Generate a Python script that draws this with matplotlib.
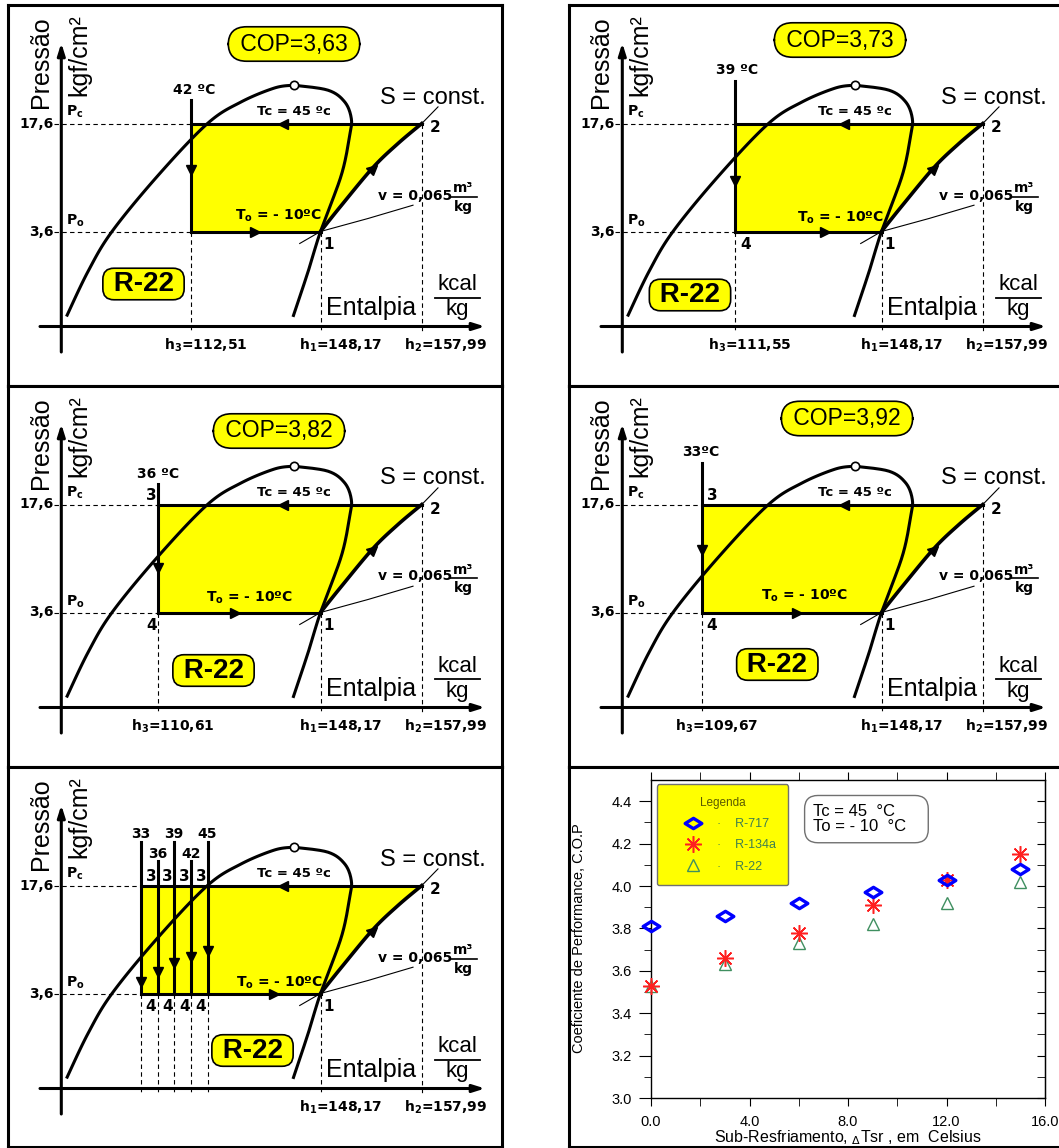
import numpy as np
import matplotlib
matplotlib.use('Agg')
import matplotlib.pyplot as plt
from matplotlib.path import Path
from matplotlib.markers import MarkerStyle
from matplotlib.transforms import Affine2D

plt.rcParams['font.family'] = ['Liberation Sans', 'DejaVu Sans']
plt.rcParams['mathtext.fontset'] = 'dejavusans'

# cycle data (R-22, Tc = 45 C, To = -10 C)
T_COND = 45
T_EVAP = -10
P_COND = 17.6
P_EVAP = 3.6
H1 = 148.17
H2 = 157.99
T3 = [42, 39, 36, 33]
H3 = [112.51, 111.55, 110.61, 109.67]
COP = [3.63, 3.73, 3.82, 3.92]

# COP vs subcooling
subcooling = [0, 3, 6, 9, 12, 15]
cop_r717 = [3.81, 3.86, 3.92, 3.97, 4.03, 4.08]
cop_r134a = [3.53, 3.66, 3.78, 3.91, 4.03, 4.15]
cop_r22 = [3.53, 3.63, 3.73, 3.82, 3.92, 4.02]

W, H = 1059, 1148
fig = plt.figure(figsize=(W / 100, H / 100), dpi=100)

# schematic p-h layout (panel pixels)
AX_X, AX_Y = 53.3, 321.5
PC_Y, PO_Y = 118.5, 226.5
X1, X2 = 312.5, 413.8
X_SAT, PX_DEG = 199.5, 5.55
LIQ = [(58.5, 193), (80, 148), (104, 108), (150, 52), (199.5, 0), (233, -21.5),
       (266.5, -35.5), (285.7, -38.3)]
VAP = [(285.7, -38.3), (320, -33.3), (336.7, -21.6), (343.3, -5), (341.7, 11.7),
       (333.3, 51.7), (312.5, 108), (300, 148.4), (285, 193.4)]
COMP = [(312.5, 108), (333.3, 82), (365, 44), (390, 20), (413.8, 0)]
VLINE = [(291.7, 120), (312.5, 108), (360, 95), (405, 81.7)]

BOLD = dict(family=['DejaVu Sans'], fontweight='bold')


def br(v, nd=2):
    return f'{v:.{nd}f}'.replace('.', ',')


def curve(pts, n=16):
    p = np.asarray(pts, float)
    p = np.vstack([p[0], p, p[-1]])
    out = []
    t = np.linspace(0, 1, n, endpoint=False)[:, None]
    for i in range(1, len(p) - 2):
        p0, p1, p2, p3 = p[i - 1], p[i], p[i + 1], p[i + 2]
        out.append(0.5 * (2 * p1 + (-p0 + p2) * t + (2 * p0 - 5 * p1 + 4 * p2 - p3) * t ** 2
                          + (-p0 + 3 * p1 - 3 * p2 + p3) * t ** 3))
    out.append(p[-2][None])
    c = np.vstack(out)
    c[:, 1] += PC_Y
    return c


def panel(x0, y0, w, h):
    ax = fig.add_axes([x0 / W, 1 - (y0 + h) / H, w / W, h / H])
    ax.set_xlim(0, w)
    ax.set_ylim(h, 0)
    ax.set_xticks([])
    ax.set_yticks([])
    for s in ax.spines.values():
        s.set_linewidth(2.2)
    return ax


def diagram(ax, temps, lay, h3=None, cop=None):
    xs = [X_SAT - (T_COND - t) * PX_DEG for t in temps]
    x0 = min(xs)
    yc, yo = PC_Y, PO_Y
    comp = curve(COMP)

    fx = [x0, X2] + list(comp[::-1, 0]) + [x0]
    fy = [yc, yc] + list(comp[::-1, 1]) + [yo]
    ax.fill(fx, fy, color='#ffff00', lw=0, zorder=1)

    dash = dict(color='k', lw=0.8, ls=(0, (4, 3)), zorder=2)
    ax.plot([46, x0], [yc, yc], **dash)
    ax.plot([46, x0], [yo, yo], **dash)
    for x in xs:
        ax.plot([x, x], [yo, AX_Y + 4], **dash)
    ax.plot([X1, X1], [yo, AX_Y + 4], **dash)
    ax.plot([X2, X2], [yc, AX_Y + 4], **dash)

    arr = dict(arrowstyle='-|>,head_length=0.7,head_width=0.22', lw=2.2, color='k',
               shrinkA=0, shrinkB=0)
    ax.annotate('', xy=(AX_X, 38), xytext=(AX_X, 347), arrowprops=arr, zorder=3)
    ax.annotate('', xy=(477, AX_Y), xytext=(32, AX_Y), arrowprops=arr, zorder=3)

    v = np.array(VLINE, float)
    ax.plot(v[:, 0], v[:, 1] + yc, color='k', lw=0.8, zorder=3)
    ax.plot([X2, 430], [yc, yc - 16.6], color='k', lw=0.8, zorder=3)

    for pts in (LIQ, VAP):
        c = curve(pts)
        ax.plot(c[:, 0], c[:, 1], color='k', lw=2.2, zorder=4, solid_capstyle='butt')

    ax.plot([x0, X2], [yc, yc], color='k', lw=2.2, zorder=5)
    ax.plot([x0, X1], [yo, yo], color='k', lw=2.2, zorder=5)
    ax.plot(comp[:, 0], comp[:, 1], color='k', lw=2.6, zorder=5)
    for x, top in zip(xs, lay['top']):
        ax.plot([x, x], [yc + top, yo], color='k', lw=2.2, zorder=5)

    tri = dict(color='k', ms=7, zorder=6, ls='none')
    for x, d in zip(xs, lay['arr']):
        ax.plot(x, yc + d, marker='v', **tri)
    ax.plot(275, yc, marker='<', **tri)
    ax.plot(lay['po_arr'], yo, marker='>', **tri)
    ax.plot(365, yc + 44, marker=MarkerStyle('^', transform=Affine2D().rotate_deg(-47)), **tri)
    ax.plot(285.7, yc - 38.3, 'o', ms=6, mfc='white', mec='k', mew=1.2, zorder=7)

    # temperature labels over the throttling lines
    for (lx, ldy), txt in zip(lay['lbl'], lay['lbl_txt']):
        ax.text(lx, yc + ldy, txt, ha='center', va='center', fontsize=10, **BOLD)
    side = lay.get('side')
    if side is not None:
        dx = 10 if side == 'right' else -6
        for x in xs[:lay.get('n_34', len(xs))]:
            if lay.get('show3', True):
                ax.text(x + dx, yc - 9, '3', ha='center', va='center', fontsize=11, **BOLD)
            ax.text(x + dx, yo + 13, '4', ha='center', va='center', fontsize=11, **BOLD)

    ax.text(46, yc, br(P_COND, 1), ha='right', va='center', fontsize=10, **BOLD)
    ax.text(46, yo, br(P_EVAP, 1), ha='right', va='center', fontsize=10, **BOLD)
    ax.text(67, yc - 11.5, r'P$_\mathbf{c}$', ha='center', va='center', fontsize=10, **BOLD)
    ax.text(67, yo - 10.5, r'P$_\mathbf{o}$', ha='center', va='center', fontsize=10, **BOLD)
    ax.text(321, yo + 13, '1', ha='center', va='center', fontsize=11, **BOLD)
    ax.text(427, yc + 4.5, '2', ha='center', va='center', fontsize=11, **BOLD)
    ax.text(286, yc - 12, f'Tc = {T_COND} ºc', ha='center', va='center', fontsize=9.5, **BOLD)
    ax.text(lay['to_x'], yo + lay['to_dy'], r'T$_\mathbf{o}$ = - ' + f'{-T_EVAP}ºC',
            ha='left', va='center', fontsize=10, **BOLD)
    ax.text(370, yc + 72, 'v = 0,065', ha='left', va='center', fontsize=10, **BOLD)
    ax.text(455.5, yc + 65, 'm³', ha='center', va='center', fontsize=10, **BOLD)
    ax.plot([441.5, 468.5], [yc + 73.5, yc + 73.5], color='k', lw=1.2, zorder=6)
    ax.text(455, yc + 83.5, 'kg', ha='center', va='center', fontsize=10, **BOLD)

    if h3 is not None:
        ax.text(x0 + 15, 340, r'h$_\mathbf{3}$=' + br(h3), ha='center', va='center', fontsize=10, **BOLD)
    ax.text(333, 340, r'h$_\mathbf{1}$=' + br(H1), ha='center', va='center', fontsize=10, **BOLD)
    ax.text(437, 340, r'h$_\mathbf{2}$=' + br(H2), ha='center', va='center', fontsize=10, **BOLD)

    ax.text(372, yc - 26, 'S = const.', ha='left', va='center', fontsize=17)
    ax.text(318, 303, 'Entalpia', ha='left', va='center', fontsize=18)
    ax.text(449, 280, 'kcal', ha='center', va='center', fontsize=16)
    ax.plot([427, 472], [292.5, 292.5], color='k', lw=1.3, zorder=6)
    ax.text(449, 305, 'kg', ha='center', va='center', fontsize=16)
    ax.text(32.5, 57, 'Pressão', rotation=90, ha='center', va='center', fontsize=18)
    ax.text(71.5, 50, 'kgf/cm²', rotation=90, ha='center', va='center', fontsize=18)

    ax.text(*lay['r22'], ' R-22 ', ha='center', va='center', fontsize=20, fontweight='bold',
            bbox=dict(boxstyle='round,pad=0.1,rounding_size=0.4', fc='#ffff00', ec='k', lw=1.2),
            zorder=8)
    if cop is not None:
        ax.text(*lay['cop'], ' COP=' + br(cop) + ' ', ha='center', va='center', fontsize=16.5,
                bbox=dict(boxstyle='round,pad=0.25,rounding_size=0.8', fc='#ffff00', ec='k', lw=1.2),
                zorder=8)


layouts = [
    dict(box=(8, 5, 494, 381), top=[-24], lbl=[(186, -34)], arr=[46], cop=(286, 39),
         r22=(135.5, 279), to_x=227, to_dy=-16, po_arr=247, side=None),
    dict(box=(569, 5, 495, 381), top=[-43], lbl=[(168.5, -53)], arr=[57], cop=(271, 35),
         r22=(121, 290), to_x=228, to_dy=-14, po_arr=256, side='right', show3=False),
    dict(box=(8, 386, 494, 381), top=[-21], lbl=[(150, -31)], arr=[63], cop=(271, 45),
         r22=(205.5, 284.5), to_x=198, to_dy=-15, po_arr=227, side='left'),
    dict(box=(569, 386, 495, 381), top=[-42], lbl=[(132, -52)], arr=[45], cop=(278, 32.5),
         r22=(208.3, 278.5), to_x=192, to_dy=-17, po_arr=228, side='right'),
]
spaced = [' ºC', ' ºC', ' ºC', 'ºC']
for i, lay in enumerate(layouts):
    lay['lbl_txt'] = [f'{T3[i]}{spaced[i]}']
    ax = panel(*lay['box'])
    diagram(ax, [T3[i]], lay, h3=H3[i], cop=COP[i])

# all subcooling cases together
temps_all = sorted(T3) + [T_COND]
xs_all = [X_SAT - (T_COND - t) * PX_DEG for t in temps_all]
tops_all = [-44, -25, -44, -25, -44]
lay_all = dict(top=tops_all, lbl=[(x, d - 7) for x, d in zip(xs_all, tops_all)],
               lbl_txt=[str(t) for t in temps_all], arr=[96.6, 86, 77.8, 71, 65],
               r22=(244.5, 283.5), to_x=228.5, to_dy=-11, po_arr=266, side='right',
               n_34=len(T3))
ax = panel(8, 767, 494, 380)
diagram(ax, temps_all, lay_all)

# COP vs subcooling chart
panel(569, 767, 495, 380)
ax2 = fig.add_axes([651 / W, 1 - 1098 / H, 394 / W, 318 / H])
diamond = Path([(-1, 0), (0, 0.62), (1, 0), (0, -0.62), (-1, 0)],
               [Path.MOVETO, Path.LINETO, Path.LINETO, Path.LINETO, Path.CLOSEPOLY])
ax2.plot(subcooling, cop_r717, ls='none', marker=diamond, ms=12, mfc='none', mec='#0000ff',
         mew=2.4, label='·    R-717', clip_on=False, zorder=5)
ax2.plot(subcooling, cop_r134a, ls='none', marker=(8, 2, 0), ms=12, color='#ff2020',
         mew=1.1, label='·    R-134a', clip_on=False, zorder=4)
ax2.plot(subcooling, cop_r22, ls='none', marker='^', ms=8, mfc='none', mec='#3f8f60',
         mew=1.0, label='·    R-22', clip_on=False, zorder=3)

ax2.set_xlim(0, 16)
ax2.set_ylim(3.0, 4.5)
xt = [0, 4, 8, 12, 16]
ax2.set_xticks(xt, [f'{v:.1f}' for v in xt])
ax2.set_xticks([2, 6, 10, 14], minor=True)
yt = np.round(np.arange(3.0, 4.41, 0.2), 1)
ax2.set_yticks(yt, [f'{v:.1f}' for v in yt])
ax2.set_yticks(np.round(np.arange(3.1, 4.5, 0.2), 1), minor=True)
ax2.tick_params(axis='x', which='both', direction='out', length=6, top=True, labelsize=10.5, pad=6)
ax2.tick_params(axis='y', which='major', direction='out', length=9, labelsize=10.5, pad=5)
ax2.tick_params(axis='y', which='minor', direction='out', length=5)
sec = ax2.secondary_yaxis('right')
sec.set_yticks(yt)
sec.set_yticks(np.round(np.arange(3.1, 4.5, 0.2), 1), minor=True)
sec.tick_params(axis='y', which='both', direction='in', length=6, labelright=False)
for s in ax2.spines.values():
    s.set_linewidth(1.0)

ax2.set_ylabel('Coeficiente de Performance, C.O.P', fontsize=10.5)
ax2.yaxis.set_label_coords(-0.165, 0.503)
ax2.set_xlabel(r'Sub-Resfriamento, $_\Delta$Tsr , em  Celsius', fontsize=11.5)
ax2.xaxis.set_label_coords(0.5, -0.095)

leg = ax2.legend(loc='upper left', bbox_to_anchor=(0.015, 0.987), title='Legenda', fontsize=9,
                 title_fontsize=8.5, facecolor='#ffff00', edgecolor='#707070', framealpha=1,
                 fancybox=True, borderpad=1.0, labelspacing=0.75, handlelength=3.7,
                 handletextpad=0.1, borderaxespad=0, numpoints=1)
leg.get_frame().set_linewidth(1.0)
leg.set_zorder(6)
for t in leg.get_texts():
    t.set_color('#3f7f50')
leg.get_title().set_color('#5a5a00')

ax2.text(0.411, 0.877, f'Tc = {T_COND}  °C     \nTo = - {-T_EVAP}  °C   ', transform=ax2.transAxes,
         fontsize=12, ha='left', va='center', linespacing=1.05,
         bbox=dict(boxstyle='round,pad=0.5,rounding_size=0.8', fc='white', ec='#707070', lw=1.0))

fig.savefig('out.png', dpi=100)
